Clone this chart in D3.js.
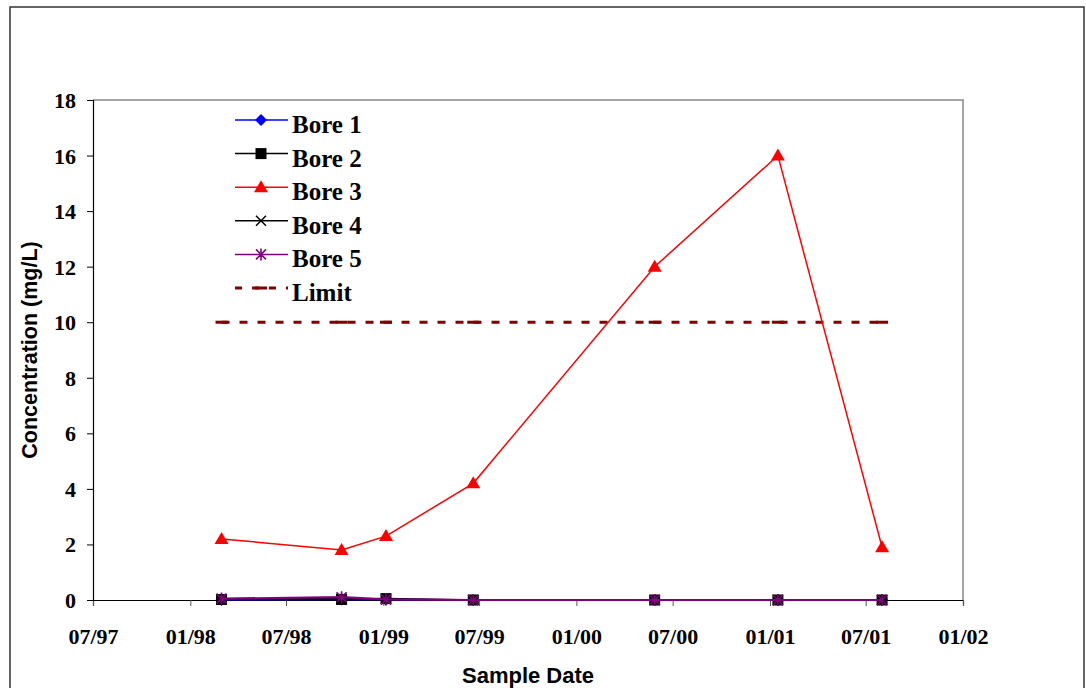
<!DOCTYPE html>
<html><head><meta charset="utf-8">
<script src="https://cdn.jsdelivr.net/npm/d3@7/dist/d3.min.js"></script>
<style>body{margin:0;background:#fff}svg{display:block}</style>
</head><body>
<svg id="c" width="1086" height="688"></svg>
<script>
const dates = ["1998-03-01","1998-10-14","1999-01-06","1999-06-20","2000-05-28","2001-01-16","2001-08-01"];
const bore1 = [0, 0.02, 0.02, 0, 0, 0, 0];
const bore2 = [0.02, 0.02, 0.05, 0, 0, 0, 0];
const bore3 = [2.2, 1.8, 2.3, 4.2, 12, 16, 1.9];
const bore4 = [0.02, 0.05, 0.03, 0, 0, 0, 0];
const bore5 = [0.05, 0.1, 0.02, 0, 0, 0, 0];
const limit = [10, 10, 10, 10, 10, 10, 10];
const xTickLabels = ["07/97","01/98","07/98","01/99","07/99","01/00","07/00","01/01","07/01","01/02"];
const yTicks = [0,2,4,6,8,10,12,14,16,18];

const parse = d3.timeParse("%Y-%m-%d");
const svg = d3.select("#c");
const L=93, R=963, T=100, B=600;
const x = d3.scaleTime().domain([parse("1997-07-01"), parse("2002-01-01")]).range([L,R]);
const y = d3.scaleLinear().domain([0,18]).range([B,T]);
const serif = "'Liberation Serif','Times New Roman',serif";
const sans = "'Liberation Sans',Arial,sans-serif";

// outer border
svg.append("rect").attr("x",10).attr("y",7).attr("width",1074).attr("height",700)
  .attr("fill","none").attr("stroke","#333").attr("stroke-width",1.5);

// plot area border (top/right grey)
svg.append("path").attr("d",`M${L},${T}H${R}V${B}`).attr("fill","none").attr("stroke","#888").attr("stroke-width",1.5);

const tickDates = xTickLabels.map(s=>{const [m,yy]=s.split("/");return new Date((+yy<50?2000:1900)+ +yy, +m-1, 1);});
const xAxis = d3.axisBottom(x).tickValues(tickDates).tickSize(6).tickFormat((d,i)=>xTickLabels[i]);
const gx = svg.append("g").attr("transform",`translate(0,${B})`).call(xAxis);
gx.attr("font-size",null).attr("font-family",null);
gx.select(".domain").attr("stroke","#000").attr("stroke-width",1.2);
gx.selectAll(".tick line").attr("stroke","#555");
gx.selectAll(".tick text").attr("y",44).attr("dy",0).style("font-family",serif)
  .style("font-weight","bold").style("font-size","22px").attr("fill","#000");

const yAxis = d3.axisLeft(y).tickValues(yTicks).tickSize(6);
const gy = svg.append("g").attr("transform",`translate(${L},0)`).call(yAxis);
gy.attr("font-size",null).attr("font-family",null);
gy.select(".domain").attr("stroke","#000").attr("stroke-width",1.2);
gy.selectAll(".tick line").attr("stroke","#000");
gy.selectAll(".tick text").attr("x",-17).attr("dy","0.34em").style("font-family",serif)
  .style("font-weight","bold").style("font-size","22px").attr("fill","#000");

// axis titles
svg.append("text").attr("transform",`translate(37,350) rotate(-90)`).attr("text-anchor","middle")
  .style("font-family",sans).style("font-weight","bold").style("font-size","21.5px").text("Concentration (mg/L)");
svg.append("text").attr("x",528).attr("y",683).attr("text-anchor","middle")
  .style("font-family",sans).style("font-weight","bold").style("font-size","22px").text("Sample Date");

const pts = vals => vals.map((v,i)=>({d:parse(dates[i]),v}));
const line = d3.line().x(p=>x(p.d)).y(p=>y(p.v));

function marker(g, type, cx, cy, color){
  if(type==="diamond"){
    g.append("path").attr("d",`M${cx},${cy-6}L${cx+6},${cy}L${cx},${cy+6}L${cx-6},${cy}Z`).attr("fill",color);
  } else if(type==="square"){
    g.append("rect").attr("x",cx-5.5).attr("y",cy-5.5).attr("width",11).attr("height",11).attr("fill",color);
  } else if(type==="triangle"){
    g.append("path").attr("d",`M${cx},${cy-7}L${cx+7},${cy+5}L${cx-7},${cy+5}Z`).attr("fill",color);
  } else if(type==="x"){
    g.append("path").attr("d",`M${cx-5},${cy-5}L${cx+5},${cy+5}M${cx+5},${cy-5}L${cx-5},${cy+5}`).attr("stroke",color).attr("stroke-width",1.5);
  } else if(type==="star"){
    g.append("path").attr("d",`M${cx-5},${cy-5}L${cx+5},${cy+5}M${cx+5},${cy-5}L${cx-5},${cy+5}M${cx},${cy-6}V${cy+6}`).attr("stroke",color).attr("stroke-width",1.6);
  } else if(type==="dash"){
    g.append("rect").attr("x",cx-6).attr("y",cy-1.5).attr("width",12).attr("height",3).attr("fill",color);
  }
}

const series = [
  {name:"Limit", vals:limit, color:"#800000", m:"dash", dash:"8,10", w:3},
  {name:"Bore 3", vals:bore3, color:"#ff0000", m:"triangle", w:1.5},
  {name:"Bore 1", vals:bore1, color:"#0000ff", m:"diamond", w:1.5},
  {name:"Bore 2", vals:bore2, color:"#000000", m:"square", w:1.5},
  {name:"Bore 4", vals:bore4, color:"#000000", m:"x", w:1.5},
  {name:"Bore 5", vals:bore5, color:"#800080", m:"star", w:2.2},
];
series.forEach(s=>{
  const g = svg.append("g");
  const p = pts(s.vals);
  g.append("path").datum(p).attr("d",line).attr("fill","none").attr("stroke",s.color)
    .attr("stroke-width",s.w).attr("stroke-dasharray",s.dash||null);
  p.forEach(q=>marker(g,s.m,x(q.d),y(q.v),s.color));
});

// legend
const legend = [
  {name:"Bore 1", color:"#0000ff", m:"diamond"},
  {name:"Bore 2", color:"#000000", m:"square"},
  {name:"Bore 3", color:"#ff0000", m:"triangle"},
  {name:"Bore 4", color:"#000000", m:"x"},
  {name:"Bore 5", color:"#800080", m:"star"},
  {name:"Limit", color:"#800000", m:"dash", dash:"7,10"},
];
legend.forEach((s,i)=>{
  const cy = 120 + i*33.6;
  const g = svg.append("g");
  g.append("line").attr("x1",235).attr("x2",288).attr("y1",cy).attr("y2",cy).attr("stroke",s.color)
    .attr("stroke-width",s.m==="dash"?3:1.5).attr("stroke-dasharray",s.dash||null);
  marker(g,s.m,261,cy,s.color);
  g.append("text").attr("x",292).attr("y",cy+13).style("font-family",serif)
    .style("font-weight","bold").style("font-size","25px").text(s.name);
});
</script>
</body></html>
